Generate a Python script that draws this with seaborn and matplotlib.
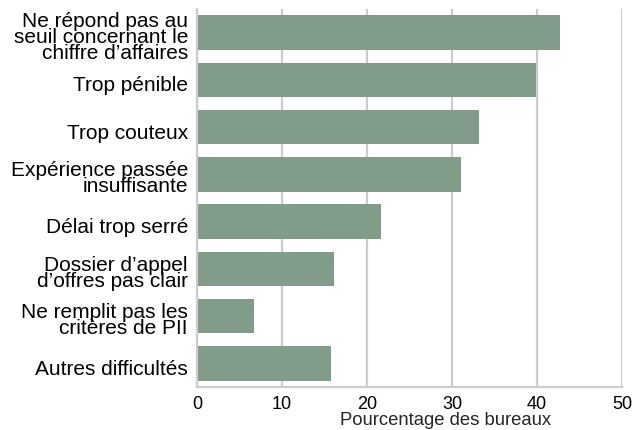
import matplotlib
matplotlib.use("Agg")
from matplotlib import pyplot as plt
import matplotlib.transforms as mtransforms
import seaborn as sns
import pandas as pd

# Daten
categories = [
    "Ne répond pas au\nseuil concernant le\nchiffre d’affaires",
    "Trop pénible",
    "Trop couteux",
    "Expérience passée\ninsuffisante",
    "Délai trop serré",
    "Dossier d’appel\nd’offres pas clair",
    "Ne remplit pas les\ncritères de PII",
    "Autres difficultés",
]
values = [42.7, 39.9, 33.2, 31.0, 21.6, 16.1, 6.7, 15.8]
x_ticks = [0, 10, 20, 30, 40, 50]

df = pd.DataFrame({"categorie": categories, "pourcentage": values})

sns.set_style("white")
plt.rcParams["font.family"] = ["Liberation Sans", "DejaVu Sans"]

fig = plt.figure(figsize=(6.34, 4.31), dpi=100)
ax = fig.add_axes([197 / 634, 1 - 388 / 431, 425 / 634, 378 / 431])

sns.barplot(data=df, x="pourcentage", y="categorie", color="#819c89",
            saturation=1, width=0.73, linewidth=0, ax=ax, zorder=2)

ax.set_xlim(0, 50)
ax.set_ylim(7.5, -0.5)
ax.set_xticks(x_ticks)
ax.grid(axis="x", color="#cccccc", linewidth=1.6, zorder=0)
ax.set_axisbelow(True)
for side in ["top", "right"]:
    ax.spines[side].set_visible(False)
for side in ["left", "bottom"]:
    ax.spines[side].set_color("#cccccc")
    ax.spines[side].set_linewidth(1.6)

ax.tick_params(axis="both", length=0, colors="black")
ax.tick_params(axis="y", pad=6.5, labelsize=15)
ax.tick_params(axis="x", pad=6, labelsize=13)

# Beschriftungen etwas nach unten schieben
shift = mtransforms.ScaledTranslation(0, -3 / 100, fig.dpi_scale_trans)
for lbl in ax.get_yticklabels():
    lbl.set_linespacing(0.8)
    lbl.set_transform(lbl.get_transform() + shift)

ax.set_ylabel("")
ax.set_xlabel("Pourcentage des bureaux", fontsize=13.3, labelpad=0)
ax.xaxis.set_label_coords(0.586, -0.064)

fig.savefig("out.png", dpi=100)
